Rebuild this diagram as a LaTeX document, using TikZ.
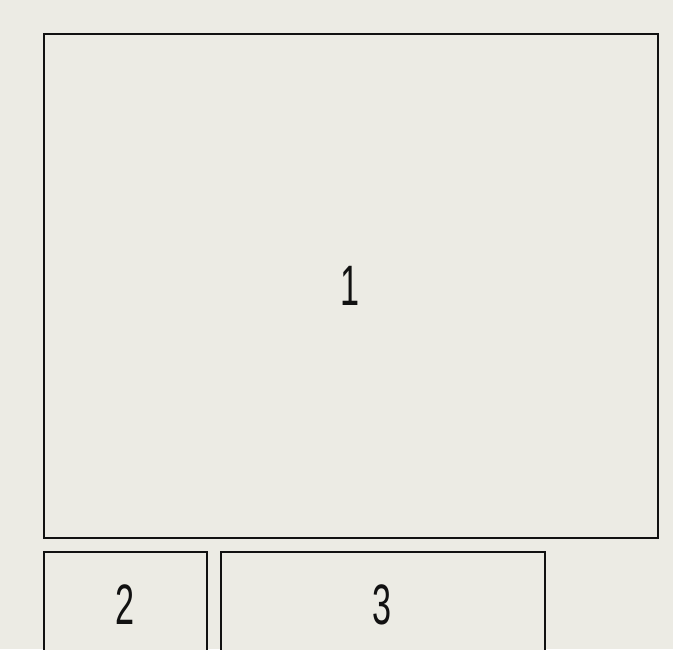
\documentclass[tikz,border=0pt]{standalone}
\usepackage{fontspec}
\newfontfamily\panelfont[FakeStretch=0.6]{Liberation Sans}
\usetikzlibrary{positioning}

\begin{document}
\begin{tikzpicture}[x=1pt, y=-1pt]

\definecolor{paperColor}{RGB}{236, 235, 228}
\definecolor{lineColor}{RGB}{17, 17, 17}

\tikzset{
    panel/.style = {rectangle, draw=lineColor, line width=2pt, fill=paperColor,
                    font=\panelfont\fontsize{57}{57}\selectfont, text=lineColor, inner sep=0pt}
}

% Background
\fill[paperColor] (0,0) rectangle (673,649);
\useasboundingbox (0,0) rectangle (673,649);
\clip (0,0) rectangle (673,649);

% =========== PANELS ===========
\node[panel, minimum width=614pt, minimum height=504pt] (panel1) at (350.5, 285.5) {1};
\node[panel, minimum width=163pt, minimum height=106pt] (panel2) at (125, 605) {2};
\node[panel, minimum width=324pt, minimum height=106pt] (panel3) at (382.5, 605) {3};

\end{tikzpicture}
\end{document}
